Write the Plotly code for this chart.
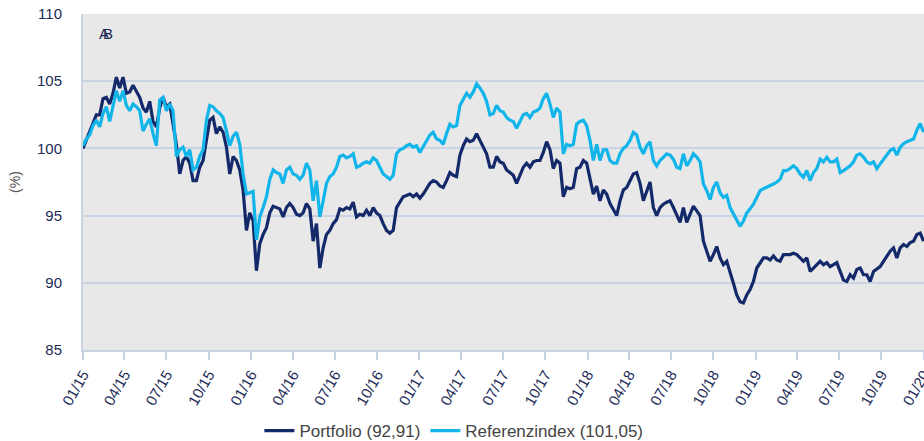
import pandas as pd
import plotly.graph_objects as go

portfolio = [
    100.0, 100.6, 101.2, 101.8, 102.5, 102.5, 103.7, 103.8, 103.3, 104.1, 105.3, 104.5, 105.3, 104.1, 104.2,
    104.7, 104.3, 103.8, 103.0, 102.7, 103.5, 102.0, 101.6, 103.0, 103.8, 103.1, 103.3, 101.6, 100.3, 98.1,
    99.1, 99.4, 98.9, 97.6, 97.6, 98.6, 99.1, 100.6, 102.1, 102.3, 101.1, 101.6, 101.2,
    100.1, 98.1, 99.4, 99.1, 98.4, 96.9, 93.9, 95.2, 94.6, 90.9, 92.9, 93.6, 94.1, 95.2, 95.7, 95.6, 95.5,
    94.9, 95.6, 95.9, 95.6, 95.1, 95.0, 95.2, 95.9, 95.5, 93.1, 94.4, 91.1, 92.6, 93.6, 93.9, 94.4, 94.7,
    95.5, 95.4, 95.6, 95.5, 96.0, 94.9, 95.1, 95.0,
    95.4, 95.0, 95.6, 95.2, 95.0, 94.4, 93.9, 93.7, 93.9, 95.6, 96.0, 96.4, 96.5, 96.6, 96.4, 96.6, 96.3,
    96.6, 97.0, 97.4, 97.6, 97.5, 97.2, 97.1, 97.6, 98.2, 98.0, 97.9, 99.5, 100.2, 100.7, 100.5, 100.6,
    101.1, 100.6, 100.1, 99.6, 98.6, 98.6, 99.4, 99.0, 98.9,
    98.4, 98.2, 98.0, 97.4, 98.0, 98.6, 98.9, 98.6, 99.0, 99.1, 99.1, 99.7, 100.5, 99.9, 98.5, 99.1, 98.9,
    96.4, 97.1, 97.0, 97.1, 98.5, 98.6, 99.1, 98.9, 97.6, 96.6, 97.2, 96.1, 96.9, 96.6, 95.9, 95.4, 95.0,
    96.1, 96.9, 97.1, 97.6, 98.1, 98.2, 97.4, 96.1,
    96.85, 97.5, 95.6, 95.0, 95.6, 95.85, 96.0, 96.1, 95.6, 95.1, 94.5, 95.6, 94.5, 95.1, 95.7, 95.35, 95.0,
    93.1, 92.35, 91.6, 92.1, 92.7, 91.85, 91.35, 91.6, 90.85, 89.97, 89.1, 88.6, 88.5, 89.1, 89.5, 90.1,
    91.1, 91.5, 91.85, 91.85, 91.7, 92.0, 91.7, 91.6, 92.1,
    92.1, 92.1, 92.2, 92.1, 91.85, 91.6, 91.85, 90.85, 91.1, 91.35, 91.6, 91.35, 91.5, 91.2, 91.35, 91.5,
    90.85, 90.2, 90.1, 90.6, 90.35, 91.0, 91.1, 90.6, 90.6, 90.1, 90.85, 91.0, 91.2, 91.6, 92.0, 92.35,
    92.6, 91.85, 92.6, 92.85, 92.7, 93.0, 93.1, 93.6, 93.7, 93.1,
]

referenzindex = [
    100.2, 100.7, 101.0, 101.7, 102.1, 101.6, 102.6, 103.1, 102.0, 103.1, 104.3, 103.5, 104.3, 103.2, 102.8,
    103.3, 103.1, 102.8, 101.3, 101.8, 102.2, 101.1, 100.2, 103.6, 103.8, 102.8, 103.3, 102.8, 99.4, 99.9,
    100.1, 99.4, 99.9, 98.4, 98.6, 99.4, 99.9, 102.1, 103.2, 103.1, 102.8, 102.6, 102.3,
    101.3, 100.2, 100.9, 101.2, 100.3, 98.1, 96.6, 96.7, 96.8, 93.2, 94.9, 95.6, 96.4, 97.7, 98.4, 98.2,
    98.1, 97.4, 98.4, 98.6, 98.1, 98.0, 97.7, 98.0, 98.9, 98.4, 96.1, 97.6, 94.9, 96.1, 97.4, 97.9, 98.1,
    98.6, 99.4, 99.5, 99.3, 99.4, 99.6, 98.6, 98.7, 98.9,
    99.0, 98.9, 99.3, 99.1, 98.6, 98.1, 97.9, 97.7, 98.0, 99.6, 99.9, 100.0, 100.2, 100.3, 100.1, 100.2,
    99.7, 100.1, 100.6, 101.0, 101.2, 100.7, 100.6, 100.3, 101.1, 101.8, 101.6, 101.7, 103.2, 103.6, 104.1,
    103.8, 104.2, 104.8, 104.5, 104.1, 103.5, 102.5, 102.6, 103.2, 102.8, 102.7,
    102.3, 102.1, 102.0, 101.5, 102.0, 102.5, 102.6, 102.3, 102.7, 102.8, 103.0, 103.7, 104.1, 103.3, 102.3,
    103.0, 102.7, 99.6, 100.3, 100.2, 100.3, 101.8, 102.0, 102.1, 101.7, 100.6, 99.1, 100.3, 99.1, 99.9,
    99.9, 99.1, 98.9, 98.9, 99.6, 100.0, 100.2, 100.6, 101.2, 101.0, 100.1, 99.6,
    100.2, 100.5, 99.1, 98.7, 99.1, 99.35, 99.6, 99.5, 99.2, 98.6, 98.5, 99.6, 98.7, 99.1, 99.6, 99.35,
    99.0, 97.35, 96.85, 96.2, 97.1, 97.5, 96.7, 96.35, 96.5, 95.6, 95.1, 94.6, 94.2, 94.6, 95.2, 95.5,
    95.85, 96.35, 96.85, 97.0, 97.1, 97.2, 97.35, 97.5, 97.7, 98.35,
    98.35, 98.5, 98.7, 98.5, 98.1, 97.85, 98.35, 97.6, 98.2, 98.5, 99.2, 99.0, 99.35, 99.0, 99.0, 99.2,
    98.2, 98.35, 98.5, 98.7, 99.0, 99.5, 99.6, 99.35, 99.0, 98.85, 99.0, 98.5, 98.85, 99.2, 99.6, 99.85,
    100.0, 99.5, 100.1, 100.35, 100.5, 100.6, 100.7, 101.35, 101.85, 101.2,
]

dates = pd.date_range("2015-01-01", "2020-01-01", periods=len(portfolio))

tick_dates = pd.date_range("2015-01-01", "2020-01-01", freq="QS")
tick_labels = [d.strftime("%m/%y") for d in tick_dates]

series_names = ["Portfolio (92,91)", "Referenzindex (101,05)"]

NAVY = "#13296a"
CYAN = "#12b5ea"
GRID = "#c8d3e3"
TXT = "#1c2b57"

fig = go.Figure()
fig.add_trace(go.Scatter(x=dates, y=portfolio, mode="lines", name=series_names[0],
                         line=dict(color=NAVY, width=3.2)))
fig.add_trace(go.Scatter(x=dates, y=referenzindex, mode="lines", name=series_names[1],
                         line=dict(color=CYAN, width=3.2)))

fig.update_layout(
    template="none",
    width=924, height=441,
    margin=dict(l=83, r=0, t=14, b=91, pad=0, autoexpand=False),
    paper_bgcolor="white",
    plot_bgcolor="#e8e8e8",
    font=dict(family="Liberation Sans, Arial, sans-serif", color=TXT, size=15),
    showlegend=True,
    legend=dict(orientation="h", x=0.441, xanchor="center", y=-0.241, yanchor="middle",
                font=dict(size=17, color="#444444"), bgcolor="rgba(0,0,0,0)",
                itemwidth=30, tracegroupgap=0),
    xaxis=dict(
        type="date",
        range=["2015-01-01", "2020-01-02"],
        tickmode="array",
        tickvals=list(tick_dates),
        ticktext=tick_labels,
        tickangle=-60,
        ticks="outside", ticklen=8, tickcolor=GRID, tickwidth=1.5,
        ticklabeloverflow="allow",
        showline=True, linecolor=GRID, linewidth=2,
        showgrid=False, zeroline=False,
        tickfont=dict(size=15, color=TXT),
        automargin=False,
    ),
    yaxis=dict(
        range=[85, 110],
        tickmode="array",
        tickvals=[85, 90, 95, 100, 105, 110],
        ticks="", ticklen=0,
        ticklabelstandoff=16,
        showline=True, linecolor=GRID, linewidth=2,
        showgrid=True, gridcolor=GRID, gridwidth=1.5,
        zeroline=False,
        tickfont=dict(size=15, color=TXT),
        automargin=False,
    ),
    annotations=[
        dict(text="(%)", xref="paper", yref="paper", x=-0.081, y=0.5,
             xanchor="center", yanchor="middle", textangle=-90, showarrow=False,
             font=dict(size=14, color="#555555")),
        dict(text="A", xref="paper", yref="paper", x=(97 - 83) / 840, y=(350 - 33) / 336,
             xanchor="left", yanchor="middle", showarrow=False,
             font=dict(size=15, color=TXT)),
        dict(text="B", xref="paper", yref="paper", x=(101 - 83) / 840, y=(350 - 33) / 336,
             xanchor="left", yanchor="middle", showarrow=False,
             font=dict(size=15, color=TXT)),
    ],
)

fig.write_html("out.html")
